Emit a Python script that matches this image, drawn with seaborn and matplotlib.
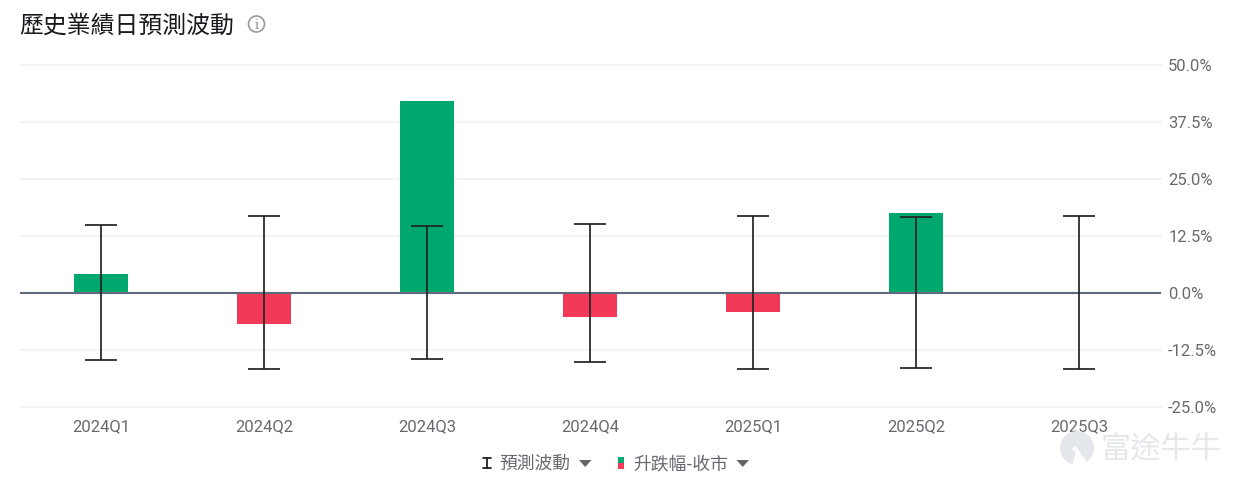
import matplotlib
matplotlib.use("Agg")
import matplotlib.pyplot as plt
from matplotlib.lines import Line2D
from matplotlib.patches import Circle, Polygon, Rectangle, Wedge
import pandas as pd
import seaborn as sns

quarters = ["2024Q1", "2024Q2", "2024Q3", "2024Q4", "2025Q1", "2025Q2", "2025Q3"]
close_change = [4.1, -6.8, 42.1, -5.3, -4.2, 17.5, 0.0]
implied_up = [14.8, 16.8, 14.6, 15.0, 16.8, 16.5, 16.8]
implied_down = [-14.8, -16.8, -14.5, -15.2, -16.8, -16.5, -16.8]
y_ticks = [50, 37.5, 25, 12.5, 0, -12.5, -25]

GREEN = "#00a870"
RED = "#f23a58"
TEXT = "#666a70"
W, H = 1239, 485

sns.set_theme(style="white")
plt.rcParams["font.family"] = ["Roboto", "Noto Sans CJK TC", "DejaVu Sans"]

fig = plt.figure(figsize=(W / 100, H / 100), dpi=100, facecolor="white")
ax = fig.add_axes([19.5 / W, 1 - 407.5 / H, 1141 / W, 342 / H])

frame = pd.DataFrame({"quarter": quarters, "change": close_change})
frame["direction"] = ["up" if v >= 0 else "down" for v in close_change]
sns.barplot(
    data=frame, x="quarter", y="change", hue="direction",
    palette={"up": GREEN, "down": RED}, dodge=False, width=0.335,
    legend=False, saturation=1, linewidth=0, ax=ax, zorder=2,
)

# Implied move ranges drawn as capped whiskers above the bars
positions = range(len(quarters))
whisker = dict(color="#222222", lw=1.25, zorder=4)
cap = 0.096
ax.vlines(positions, implied_down, implied_up, **whisker)
ax.hlines(implied_up, [p - cap for p in positions], [p + cap for p in positions], **whisker)
ax.hlines(implied_down, [p - cap for p in positions], [p + cap for p in positions], **whisker)

ax.set_xlim(-0.5, 6.5)
ax.set_ylim(-25, 50)
ax.set_yticks(y_ticks)
ax.set_yticklabels([f"{v:.1f}%" for v in y_ticks])
ax.yaxis.tick_right()
ax.set_xlabel("")
ax.set_ylabel("")
ax.grid(axis="y", color="#f2f3f4", lw=1.5, zorder=0, clip_on=False)
ax.set_axisbelow(True)
ax.axhline(0, color="#5f6b7a", lw=1.5, zorder=3)
for side in ax.spines.values():
    side.set_visible(False)
ax.tick_params(axis="y", length=0, pad=5.5, labelsize=12, labelcolor=TEXT)
ax.tick_params(axis="x", length=0, pad=8.5, labelsize=12, labelcolor=TEXT)
ax.patch.set_alpha(0)

# Pixel-space overlay for the title, info icon, legend row and watermark
overlay = fig.add_axes([0, 0, 1, 1], facecolor="none", zorder=5)
overlay.set_xlim(0, W)
overlay.set_ylim(H, 0)
overlay.axis("off")

cjk = ["Noto Sans CJK TC", "DejaVu Sans"]
overlay.text(19.5, 26, "歷史業績日預測波動", fontsize=17.2, color="#16191d",
             va="center", ha="left", family=cjk, weight="medium")
overlay.add_patch(Circle((256.5, 25), 8, fill=False, ec="#9a9a9a", lw=1.2))
overlay.text(256.5, 25.5, "i", fontsize=9.5, color="#8c8c8c", ha="center", va="center",
             family="DejaVu Serif")

legend_font = dict(fontsize=12.8, color=TEXT, va="center", ha="left", family=cjk)
overlay.add_line(Line2D([487, 487], [459, 469], color="#222222", lw=1.3))
overlay.add_line(Line2D([483, 491], [459, 459], color="#222222", lw=1.3))
overlay.add_line(Line2D([483, 491], [469, 469], color="#222222", lw=1.3))
overlay.text(499.5, 464.5, "預測波動", **legend_font)
overlay.add_patch(Polygon([(579, 461), (591.5, 461), (585.2, 468)], fc="#666666", ec="none"))
overlay.add_patch(Rectangle((618, 458), 6, 6, fc=GREEN, ec="none"))
overlay.add_patch(Rectangle((618, 464), 6, 6, fc=RED, ec="none"))
overlay.text(633.5, 464.5, "升跌幅-收市", **legend_font)
overlay.add_patch(Polygon([(736.5, 461), (749, 461), (742.7, 468)], fc="#666666", ec="none"))

mark = "#e4e8ec"
overlay.add_patch(Circle((1077, 449), 17, fc=mark, ec="none"))
overlay.add_patch(Wedge((1077, 449), 18, 55, 105, fc="white", ec="none"))
overlay.add_patch(Circle((1075, 450), 2.5, fc="white", ec="none"))
overlay.text(1101, 449.5, "富途牛牛", fontsize=21.8, color=mark, va="center", ha="left",
             family=cjk, weight="medium")

fig.savefig("out.png", dpi=100)
